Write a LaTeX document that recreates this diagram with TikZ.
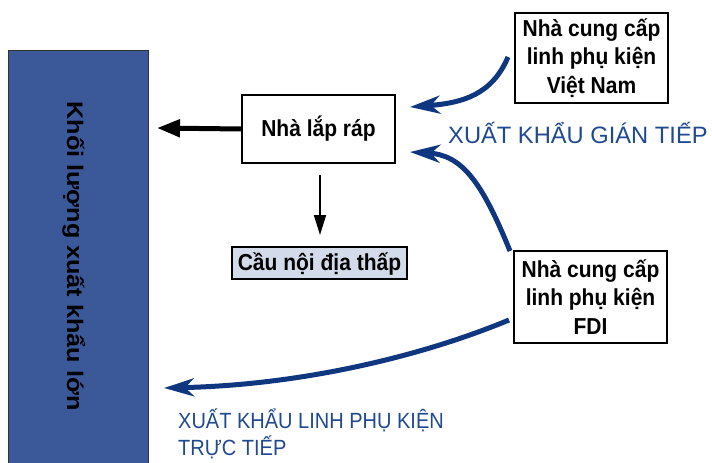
\documentclass[tikz,border=0pt]{standalone}
\usepackage{fontspec}
\setmainfont{Liberation Sans}
\usetikzlibrary{arrows.meta}
\definecolor{boxblue}{RGB}{59,89,152}
\definecolor{arrowblue}{RGB}{14,55,128}
\definecolor{labelblue}{RGB}{31,73,145}
\definecolor{cfill}{RGB}{211,219,234}
\newcommand{\ys}[1]{\scalebox{1}[1.1]{#1}}
\tikzset{
  box/.style={draw=black, line width=1.2pt, fill=white, inner sep=0pt, align=center,
    font=\fontsize{21}{28.5}\selectfont\bfseries},
  bluearrow/.style={draw=arrowblue, line width=5pt,
    -{Stealth[length=30pt,width=18pt,inset=9pt]}},
  lbl/.style={text=labelblue, inner sep=0pt, align=left},
}
\begin{document}
\begin{tikzpicture}[x=1pt,y=-1pt]
\useasboundingbox (0,0) rectangle (712,463);
% big blue column
\node[draw=black!80, line width=1pt, fill=boxblue, minimum width=140pt, minimum height=420pt, inner sep=0pt, anchor=north west] (vol) at (8,50) {};
\node[rotate=-90, anchor=base, inner sep=0pt, font=\fontsize{22.5}{25}\selectfont\bfseries] (voltxt) at (67,256) {\scalebox{1.12}[1]{Khối lượng xuất khẩu lớn}};
% boxes
\node[box, minimum width=153pt, minimum height=68pt, text height=18pt, text depth=4pt] (asm) at (318.5,129) {\ys{Nhà lắp ráp}};
\node[box, minimum width=153pt, minimum height=90pt] (vn) at (591.5,58) {\ys{Nhà cung cấp}\\\ys{linh phụ kiện}\\\ys{Việt Nam}};
\node[box, minimum width=153pt, minimum height=92pt] (fdi) at (590.5,297) {\ys{Nhà cung cấp}\\\ys{linh phụ kiện}\\\ys{FDI}};
\node[box, fill=cfill, minimum width=175pt, minimum height=32pt, text height=17pt, text depth=3pt] (low) at (319.5,263) {\ys{Cầu nội địa thấp}};
% free ends
\coordinate (t0) at (157,128);
\coordinate (t1) at (320,235);
\coordinate (t2) at (410,107);
\coordinate (t3) at (410,152);
\coordinate (t4) at (164,388);
\coordinate (s2) at (508,57);
\coordinate (s3) at (510,251);
\coordinate (s4) at (509,320);
% black arrows
\draw[line width=5pt, -{Triangle[length=23pt,width=17pt]}] (asm.west) -- (t0);
\draw[line width=1.8pt, -{Triangle[length=20pt,width=12pt]}] (320,175) -- (t1);
% blue arrows
\draw[bluearrow] (s2) .. controls (492,95) and (462,103) .. (t2);
\draw[bluearrow] (s3) .. controls (482,182) and (462,155) .. (t3);
\draw[bluearrow] (s4) .. controls (420,357) and (300,385) .. (t4);
% labels
\node[lbl, anchor=base west, font=\fontsize{23.7}{28}\selectfont] (ind) at (448,143) {XUẤT KHẨU GIÁN TIẾP};
\node[lbl, anchor=base west, font=\fontsize{20}{27}\selectfont] (dir) at (178,455) {\scalebox{1}[1.1]{XUẤT KHẨU LINH PHỤ KIỆN}\\\scalebox{1}[1.1]{TRỰC TIẾP}};
\end{tikzpicture}
\end{document}
